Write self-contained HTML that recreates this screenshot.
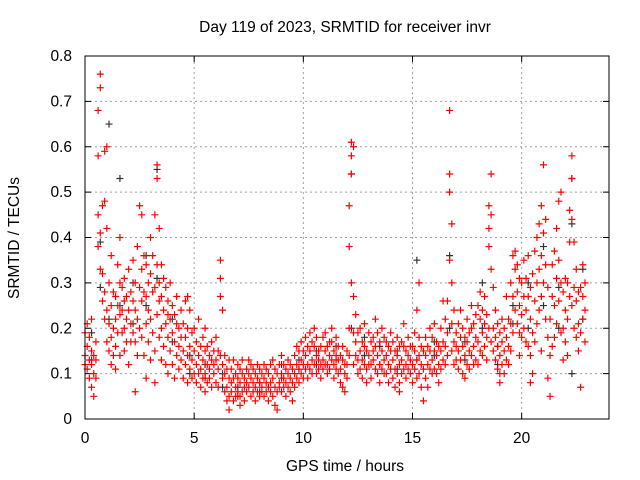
<!DOCTYPE html>
<html><head><meta charset="utf-8"><style>
html,body{margin:0;padding:0;background:#fff;}
svg{display:block;font-family:"Liberation Sans",sans-serif;}
</style></head><body>
<svg id="chart" width="640" height="480" viewBox="0 0 640 480" xmlns="http://www.w3.org/2000/svg">
<rect x="0" y="0" width="640" height="480" fill="#fff"/>
<text x="345" y="32" font-size="15.5" text-anchor="middle">Day 119 of 2023, SRMTID for receiver invr</text>
<text transform="translate(19,238) rotate(-90)" font-size="15.5" text-anchor="middle">SRMTID / TECUs</text>
<text x="345" y="471" font-size="15.5" text-anchor="middle">GPS time / hours</text>
<g id="grid"></g>
<g id="ticks"></g>
<g id="black"></g>
<g id="red"></g>
<rect x="85" y="56" width="524" height="363" fill="none" stroke="#000" stroke-width="1"/>
</svg>
<script>
const xTicks=[0,5,10,15,20];
const yTicks=[0,0.1,0.2,0.3,0.4,0.5,0.6,0.7,0.8];
const yTickLabels=["0","0.1","0.2","0.3","0.4","0.5","0.6","0.7","0.8"];
const redT=[0.0,0.1,0.2,0.3,0.4,0.5,0.6,0.7,0.8,0.9,1.0,1.1,1.2,1.3,1.4,1.5,1.6,1.7,1.8,1.9,2.0,2.1,2.2,2.3,2.4,2.5,2.6,2.7,2.8,2.9,3.0,3.1,3.2,3.3,3.4,3.5,3.6,3.7,3.8,3.9,4.0,4.1,4.2,4.3,4.4,4.5,4.6,4.7,4.8,4.9,5.0,5.1,5.2,5.3,5.4,5.5,5.6,5.7,5.8,5.9,6.0,6.1,6.2,6.3,6.4,6.5,6.6,6.7,6.8,6.9,7.0,7.1,7.2,7.3,7.4,7.5,7.6,7.7,7.8,7.9,8.0,8.1,8.2,8.3,8.4,8.5,8.6,8.7,8.8,8.9,9.0,9.1,9.2,9.3,9.4,9.5,9.6,9.7,9.8,9.9,10.0,10.1,10.2,10.3,10.4,10.5,10.6,10.7,10.8,10.9,11.0,11.1,11.2,11.3,11.4,11.5,11.6,11.7,11.8,11.9,12.0,12.1,12.2,12.3,12.4,12.5,12.6,12.7,12.8,12.9,13.0,13.1,13.2,13.3,13.4,13.5,13.6,13.7,13.8,13.9,14.0,14.1,14.2,14.3,14.4,14.5,14.6,14.7,14.8,14.9,15.0,15.1,15.2,15.3,15.4,15.5,15.6,15.7,15.8,15.9,16.0,16.1,16.2,16.3,16.4,16.5,16.6,16.7,16.8,16.9,17.0,17.1,17.2,17.3,17.4,17.5,17.6,17.7,17.8,17.9,18.0,18.1,18.2,18.3,18.4,18.5,18.6,18.7,18.8,18.9,19.0,19.1,19.2,19.3,19.4,19.5,19.6,19.7,19.8,19.9,20.0,20.1,20.2,20.3,20.4,20.5,20.6,20.7,20.8,20.9,21.0,21.1,21.2,21.3,21.4,21.5,21.6,21.7,21.8,21.9,22.0,22.1,22.2,22.3,22.4,22.5,22.6,22.7,22.8,22.9];
const redV=[[.14,.19,.12],[.11,.16,.21],[.13,.09,.18],[.07,.15,.12,.22],[.05,.10,.14],[.09,.17,.13],[.38,.45,.58,.68],[.76,.73,.33,.41],[.32,.47,.26],[.48,.28,.22,.59],[.60,.42,.24,.17],[.21,.30,.15],[.25,.18,.12,.36],[.20,.28,.14],[.27,.16,.11,.22],[.25,.19,.34],[.40,.23,.14,.30],[.24,.19,.29],[.31,.20,.15,.26],[.22,.17,.27],[.33,.24,.12],[.21,.28,.17],[.26,.35,.19],[.24,.06,.30,.17],[.38,.22,.14],[.29,.47,.20],[.45,.33,.26,.18],[.36,.28,.14],[.27,.21,.34,.09],[.30,.24,.17],[.32,.40,.22,.13],[.28,.19,.36],[.45,.29,.15,.08],[.56,.53,.34,.23],[.42,.30,.18,.26],[.27,.20,.34,.13],[.24,.16,.31],[.29,.21,.12],[.26,.18,.10,.23],[.22,.15,.30],[.19,.25,.12],[.17,.23,.09],[.21,.14,.27],[.16,.11,.20],[.18,.13,.24],[.15,.21,.09],[.12,.18,.26],[.27,.14,.08,.20],[.24,.16,.11],[.13,.19,.09],[.15,.10,.20],[.12,.08,.17],[.14,.10,.22],[.11,.16,.07],[.13,.09,.18],[.10,.15,.06,.20],[.12,.08,.16],[.09,.14,.11],[.13,.07,.17],[.10,.15,.12],[.08,.13,.18],[.11,.15,.07],[.35,.31,.27,.14],[.24,.12,.09],[.10,.06,.14],[.07,.11,.04],[.05,.09,.13,.02],[.08,.06,.11],[.04,.09,.13],[.07,.10,.05],[.09,.06,.12],[.08,.05,.11,.03],[.06,.10,.13],[.09,.07,.04],[.11,.06,.08],[.07,.10,.13],[.05,.09,.12],[.08,.06,.11],[.10,.07,.04],[.06,.09,.12],[.08,.11,.05],[.07,.10,.06],[.09,.05,.12],[.06,.08,.11],[.10,.07,.04],[.08,.12,.06],[.05,.09,.13],[.07,.11,.03],[.10,.06,.02],[.08,.12,.07],[.06,.10,.14],[.09,.07,.12],[.11,.05,.08],[.07,.10,.13],[.09,.06,.12],[.08,.11,.04],[.10,.14,.07],[.12,.09,.16],[.11,.15,.08],[.13,.10,.17],[.09,.12,.15],[.14,.11,.18],[.12,.16,.09],[.15,.11,.19],[.13,.17,.10],[.12,.16,.20],[.14,.10,.18],[.11,.15,.13],[.16,.12,.09],[.13,.18,.11],[.15,.12,.19],[.12,.16,.10],[.14,.11,.17],[.17,.13,.20],[.12,.15,.09],[.14,.18,.11],[.13,.10,.16],[.11,.14,.08],[.13,.07,.16],[.10,.12,.06],[.12,.09,.15],[.20,.38,.47,.14],[.61,.58,.54,.30],[.60,.27,.19,.12],[.23,.17,.14],[.19,.13,.10],[.15,.20,.11],[.13,.17,.09],[.16,.12,.21],[.11,.15,.08],[.14,.19,.12],[.17,.12,.09],[.13,.18,.15],[.11,.16,.22],[.14,.10,.19],[.12,.17,.08],[.15,.11,.20],[.13,.18,.10],[.10,.14,.17],[.12,.08,.16],[.15,.11,.19],[.13,.09,.17],[.11,.15,.07],[.14,.10,.18],[.08,.12,.16,.06],[.13,.17,.10],[.16,.11,.21],[.12,.15,.09],[.14,.18,.11],[.10,.13,.16],[.12,.16,.08],[.15,.11,.19],[.13,.24,.09],[.10,.14,.18,.30],[.12,.16,.07],[.11,.15,.04],[.14,.09,.18],[.12,.16,.07],[.15,.11,.20],[.13,.18,.10],[.11,.15,.21],[.14,.10,.17],[.12,.16,.08],[.15,.20,.11],[.13,.17,.26],[.16,.12,.22],[.26,.19,.14],[.68,.54,.50,.35],[.43,.30,.21,.15],[.17,.12,.24],[.19,.13,.16],[.15,.21,.11],[.18,.13,.24],[.16,.10,.20],[.14,.18,.09],[.17,.22,.12],[.15,.19,.11],[.20,.14,.25],[.16,.21,.12],[.18,.23,.13],[.17,.25,.12],[.22,.15,.28],[.19,.14,.24],[.21,.16,.27],[.18,.13,.23],[.47,.42,.38,.20],[.54,.45,.33,.17],[.29,.20,.15],[.18,.13,.24],[.16,.11,.21],[.14,.19,.08,.10],[.17,.12,.22],[.15,.20,.10],[.13,.18,.27],[.16,.22,.12],[.30,.21,.15],[.36,.27,.19],[.33,.24,.37],[.28,.21,.34],[.25,.19,.31,.14],[.30,.23,.18],[.27,.35,.20],[.24,.17,.31],[.36,.27,.16],[.22,.14,.29,.08],[.32,.19,.10],[.26,.37,.17],[.40,.30,.21],[.43,.33,.24],[.47,.36,.27,.15],[.56,.41,.30],[.44,.34,.22],[.29,.18,.09],[.22,.05,.14],[.27,.16,.34],[.37,.25,.18],[.42,.31,.21],[.48,.35,.26],[.50,.30,.19],[.28,.20,.13],[.24,.17,.31],[.30,.22,.14],[.46,.39,.27],[.58,.53,.44,.25],[.39,.29,.20],[.26,.18,.33],[.21,.15,.28],[.29,.07,.19],[.27,.22,.34],[.24,.17,.30]];
const blackT=[0.3,0.7,1.1,1.6,2.2,2.8,3.3,4.0,4.8,5.5,6.3,7.0,8.0,9.0,9.8,10.6,11.5,12.2,12.8,13.5,14.3,15.2,16.0,16.7,17.4,18.2,18.9,19.6,20.3,21.0,21.7,22.3,22.8];
const blackV=[[.13,.19],[.39,.29],[.65,.22],[.53,.25],[.21,.30],[.25,.36],[.55,.31],[.17,.22],[.14,.10],[.12,.09],[.10,.07],[.07,.05],[.08,.06],[.09,.12],[.13,.11],[.15,.12],[.13,.16],[.54,.20],[.14,.18],[.12,.16],[.11,.15],[.35,.13],[.14,.17],[.36,.20],[.17,.13],[.20,.30],[.16,.12],[.25,.21],[.30,.20],[.38,.25],[.29,.20],[.43,.53,.10],[.33,.22]];

const NS="http://www.w3.org/2000/svg";
const X0=85,X1=609,Y0=419,Y1=56;
function xs(t){return X0+(t/24)*(X1-X0);}
function ys(v){return Y0-(v/0.8)*(Y0-Y1);}
function mk(tag,attrs,parent){const e=document.createElementNS(NS,tag);for(const k in attrs)e.setAttribute(k,attrs[k]);parent.appendChild(e);return e;}
const grid=document.getElementById('grid'),ticks=document.getElementById('ticks');
xTicks.forEach(t=>{
  const x=xs(t);
  if(t>0){const g=mk('line',{x1:x,y1:Y0,x2:x,y2:Y1,stroke:'#a0a0a0','stroke-dasharray':'2,3'},grid);
  
  }
  mk('line',{x1:x,y1:Y0,x2:x,y2:Y0-6,stroke:'#000'},ticks);
  mk('line',{x1:x,y1:Y1,x2:x,y2:Y1+6,stroke:'#000'},ticks);
  const l=mk('text',{x:x,y:Y0+24,'font-size':15.5,'text-anchor':'middle'},ticks);
  l.textContent=String(t);
  
  
});
yTicks.forEach((v,i)=>{
  const y=ys(v);
  if(i>0&&i<yTicks.length-1){const g=mk('line',{x1:X0,y1:y,x2:X1,y2:y,stroke:'#a0a0a0','stroke-dasharray':'2,3'},grid);
  
  }
  mk('line',{x1:X0,y1:y,x2:X0+6,y2:y,stroke:'#000'},ticks);
  mk('line',{x1:X1,y1:y,x2:X1-6,y2:y,stroke:'#000'},ticks);
  const l=mk('text',{x:X0-13,y:y+5,'font-size':15.5,'text-anchor':'end'},ticks);
  l.textContent=yTickLabels[i];
  
  
});
function drawSeries(T,V,gid,color,name){
  const g=document.getElementById(gid);let d='';
  T.forEach((t,i)=>{V[i].forEach(v=>{const x=xs(t),y=ys(v);d+=`M${x-3.5},${y}h7M${x},${y-3.5}v7`;});});
  const p=mk('path',{d:d,stroke:color,'stroke-width':1.2,fill:'none'},g);
  
  
}
drawSeries(blackT,blackV,'black','#333','black-points');
drawSeries(redT,redV,'red','#ff0000','red-points');
</script>
</body></html>
